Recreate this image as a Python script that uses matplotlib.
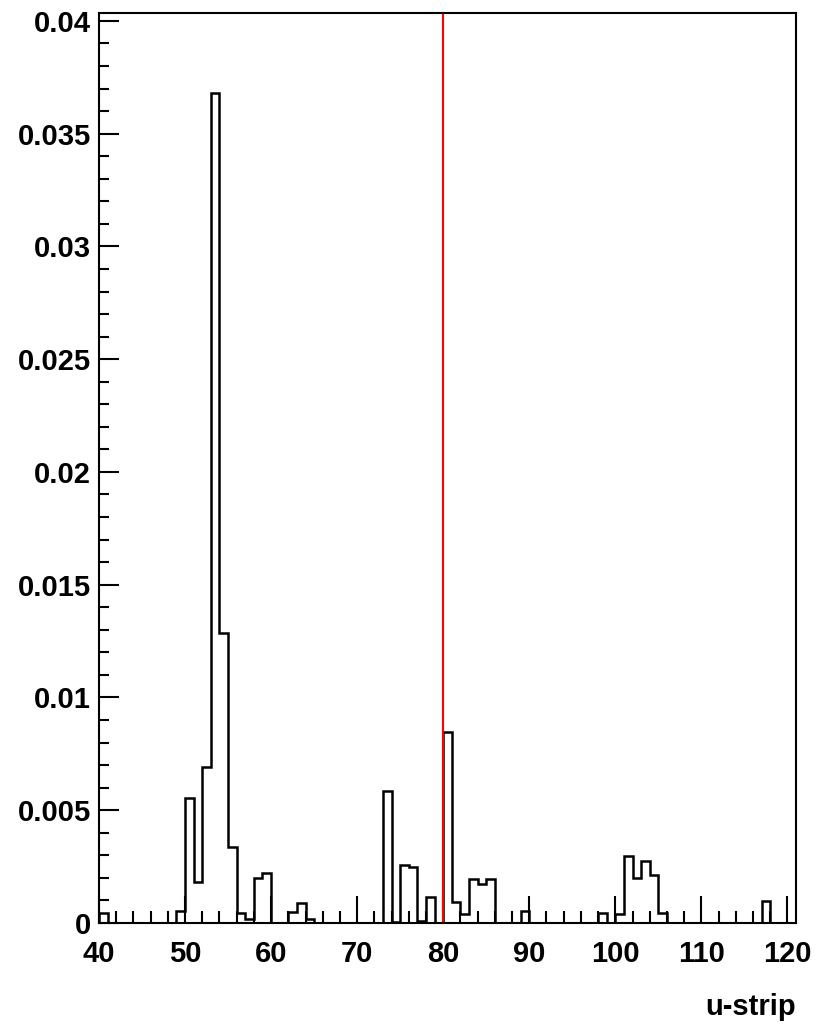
import matplotlib
matplotlib.use("Agg")
import matplotlib.pyplot as plt
from matplotlib.ticker import MultipleLocator, FixedLocator

plt.rcParams['font.family'] = ['Liberation Sans', 'DejaVu Sans']
plt.rcParams['font.weight'] = 'bold'

# histogram of u-strip occupancy, one bin per strip (40..120)
strip_edges = list(range(40, 122))
strip_values = [
    0.00046, 0, 0, 0, 0, 0, 0, 0, 0, 0.00053,          # 40-49
    0.00553, 0.0018, 0.00693, 0.0368, 0.01287,          # 50-54
    0.00336, 0.00043, 0.00018, 0.00198, 0.0022,         # 55-59
    0, 0, 0.00049, 0.00089, 0.00016,                    # 60-64
    0, 0, 0, 0, 0, 0, 0, 0,                             # 65-72
    0.00584, 0.00006, 0.00256, 0.00248, 0.0001,         # 73-77
    0.00114, 0, 0.00847, 0.00093, 0.0004,               # 78-82
    0.00195, 0.00175, 0.00194, 0, 0, 0, 0.00052,        # 83-89
    0, 0, 0, 0, 0, 0, 0, 0,                             # 90-97
    0.00046, 0, 0.0004, 0.00297, 0.00201,               # 98-102
    0.00275, 0.00215, 0.00046,                          # 103-105
    0, 0, 0, 0, 0, 0, 0, 0, 0, 0, 0,                    # 106-116
    0.00096, 0, 0, 0,                                   # 117-120
]
cut_strip = 80

y_ticks = [0, 0.005, 0.01, 0.015, 0.02, 0.025, 0.03, 0.035, 0.04]
y_tick_labels = ["0", "0.005", "0.01", "0.015", "0.02", "0.025", "0.03", "0.035", "0.04"]

fig = plt.figure(figsize=(8.17, 10.30), dpi=100)
ax = fig.add_axes([99 / 817, 1 - 923 / 1030, (796 - 99) / 817, (923 - 13) / 1030])

ax.stairs(strip_values, strip_edges, color="black", linewidth=1.8, baseline=0)
ax.axvline(cut_strip, color="#ff0000", linewidth=1.5)

ax.set_xlim(40, 121)
ax.set_ylim(0, 0.04035)

ax.xaxis.set_major_locator(MultipleLocator(10))
ax.xaxis.set_minor_locator(MultipleLocator(2))
ax.yaxis.set_major_locator(FixedLocator(y_ticks))
ax.set_yticklabels(y_tick_labels)
ax.yaxis.set_minor_locator(MultipleLocator(0.001))

ax.tick_params(axis="x", which="major", direction="in", length=19.5, width=1.5, pad=12, labelsize=21)
ax.tick_params(axis="x", which="minor", direction="in", length=8.8, width=1.5)
ax.tick_params(axis="y", which="major", direction="in", length=14.5, width=1.5, pad=6, labelsize=21)
ax.tick_params(axis="y", which="minor", direction="in", length=7.2, width=1.5)

for spine in ax.spines.values():
    spine.set_linewidth(1.5)

ax.set_xlabel("u-strip", fontsize=21, fontweight="bold", loc="right", labelpad=18)

fig.savefig("out.png", dpi=100)
